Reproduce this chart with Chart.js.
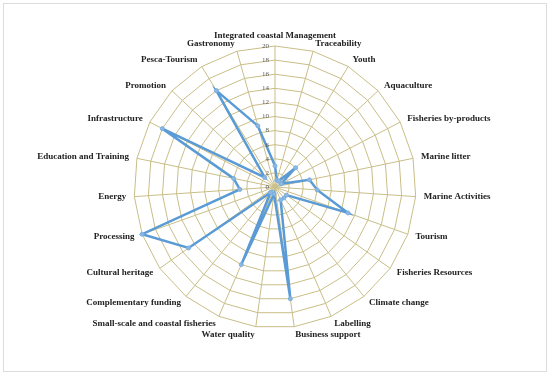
<!DOCTYPE html>
<html>
<head>
<meta charset="utf-8">
<script src="https://cdn.jsdelivr.net/npm/chart.js@4"></script>
<style>
  body { margin: 0; background: #fff; }
  #wrap { position: absolute; left: 3px; top: 3px; width: 542px; height: 367px; border: 1px solid #dcdcdc; }
</style>
</head>
<body>
<div id="wrap"><canvas id="radarChart"></canvas></div>
<script>
// 类别（顺时针，从顶部开始）
const categories = [
    'Integrated coastal Management', 'Traceability', 'Youth', 'Aquaculture',
    'Fisheries by-products', 'Marine litter', 'Marine Activities', 'Tourism',
    'Fisheries Resources', 'Climate change', 'Labelling', 'Business support',
    'Water quality', 'Small-scale and coastal fisheries', 'Complementary funding',
    'Cultural heritage', 'Processing', 'Energy', 'Education and Training',
    'Infrastructure', 'Promotion', 'Pesca-Tourism', 'Gastronomy'
];

// 各类别数值
const counts = [3, 1, 1, 4, 1, 5, 6, 11, 2, 2, 2, 16, 1, 12, 1, 15, 20, 5, 6, 18, 2, 16, 9];

// 刻度标签
const tickValues = [0, 2, 4, 6, 8, 10, 12, 14, 16, 18, 20];

// 自己画刻度（纵轴左边）和类别标签（贴着辐条末端）
const labelPlugin = {
    id: 'customLabels',
    afterDraw(chart) {
        const scale = chart.scales.r;
        const ctx = chart.ctx;
        const maxDist = scale.getDistanceFromCenterForValue(scale.max);
        ctx.save();
        ctx.font = '7px "Liberation Serif", serif';
        ctx.fillStyle = '#595959';
        ctx.textAlign = 'right';
        ctx.textBaseline = 'middle';
        tickValues.forEach(v => {
            const d = scale.getDistanceFromCenterForValue(v);
            ctx.fillText(String(v), scale.xCenter - 6, scale.yCenter - d);
        });

        ctx.font = 'bold 9px "Liberation Serif", serif';
        ctx.fillStyle = '#222';
        categories.forEach((name, i) => {
            const deg = i * 360 / categories.length;
            if (i === 0) {
                const p = scale.getPointPosition(i, maxDist + 6);
                ctx.textAlign = 'center';
                ctx.textBaseline = 'bottom';
                ctx.fillText(name, p.x, p.y);
                return;
            }
            const p = scale.getPointPosition(i, maxDist + 8);
            ctx.textAlign = deg < 180 ? 'left' : 'right';
            ctx.textBaseline = 'middle';
            ctx.fillText(name, p.x, p.y);
        });
        ctx.restore();
    }
};

const ctx = document.getElementById('radarChart').getContext('2d');
new Chart(ctx, {
    type: 'radar',
    data: {
        labels: categories,
        datasets: [{
            data: counts,
            borderColor: '#5B9BD5',
            backgroundColor: 'transparent',
            borderWidth: 2.5,
            fill: false,
            pointRadius: 2,
            pointBackgroundColor: '#8DB8E2',
            pointBorderColor: '#7AAEDF',
            pointBorderWidth: 1
        }]
    },
    options: {
        responsive: true,
        maintainAspectRatio: false,
        animation: false,
        layout: {
            padding: { top: 42, bottom: 42, left: 0, right: 0 }
        },
        plugins: {
            legend: { display: false },
            tooltip: { enabled: false }
        },
        scales: {
            r: {
                min: 0,
                max: 20,
                ticks: { stepSize: 2, display: false },
                grid: { color: 'rgb(200,190,135)', lineWidth: 1 },
                angleLines: { color: 'rgb(200,190,135)', lineWidth: 1 },
                pointLabels: { display: false }
            }
        }
    },
    plugins: [labelPlugin]
});
</script>
</body>
</html>
